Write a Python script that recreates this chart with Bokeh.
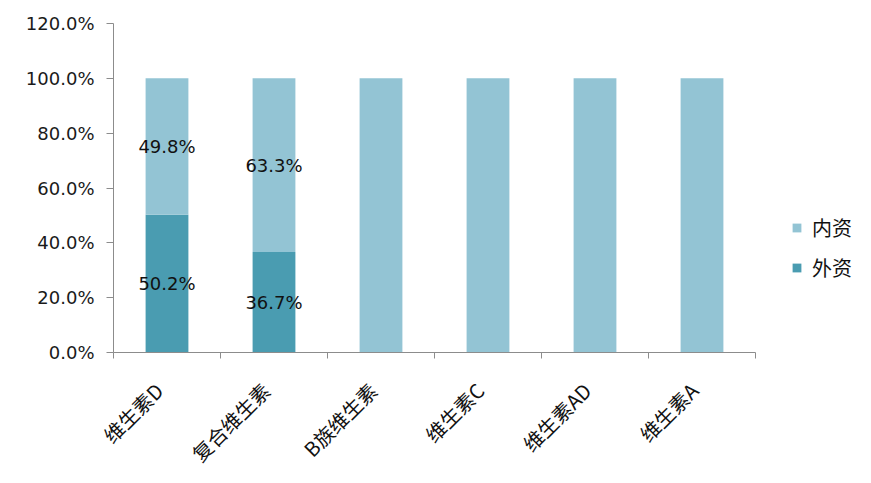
import math
from bokeh.plotting import figure
from bokeh.models import (ColumnDataSource, Range1d, LinearAxis, FixedTicker,
                          NumeralTickFormatter, Legend, LegendItem)
from bokeh.core.properties import value
from bokeh.embed import file_html
from bokeh.resources import INLINE

categories = ["维生素D", "复合维生素", "B族维生素", "维生素C", "维生素AD", "维生素A"]
foreign = [50.2, 36.7, 0.0, 0.0, 0.0, 0.0]      # 外资
domestic = [49.8, 63.3, 100.0, 100.0, 100.0, 100.0]  # 内资
y_ticks = [0, 20, 40, 60, 80, 100, 120]

C_DOM = "#93C4D4"
C_FOR = "#4A9CB1"
AXIS_C = "#8C8C8C"
FONT = "DejaVu Sans"
CJK = "Noto Sans CJK SC"

W, H = 871, 483
LEFT, TOP, BOTTOM = 113, 23, 131
AXIS_PX = 642            # pixel length of the category axis
n = len(categories)
x_max = n * (W - LEFT) / AXIS_PX

xs = [i + 0.5 for i in range(n)]
src = ColumnDataSource(dict(
    x=xs,
    f0=[0.0] * n,
    f1=[v / 100 for v in foreign],
    d1=[(a + b) / 100 for a, b in zip(foreign, domestic)],
))

p = figure(width=W, height=H, output_backend="svg", toolbar_location=None,
           x_range=Range1d(0, x_max), y_range=Range1d(0, 1.2),
           x_axis_type=None, y_axis_type=None)
p.min_border_left = LEFT
p.min_border_right = 0
p.min_border_top = TOP
p.min_border_bottom = BOTTOM
p.outline_line_color = None
p.xgrid.visible = False
p.ygrid.visible = False
p.background_fill_color = "white"
p.border_fill_color = "white"

r_for = p.vbar(x="x", bottom="f0", top="f1", width=0.4, source=src,
               fill_color=C_FOR, line_color=None)
r_dom = p.vbar(x="x", bottom="f1", top="d1", width=0.4, source=src,
               fill_color=C_DOM, line_color=None)

# y axis
yax = LinearAxis(ticker=FixedTicker(ticks=[t / 100 for t in y_ticks]),
                 formatter=NumeralTickFormatter(format="0.0%"))
yax.axis_line_color = AXIS_C
yax.major_tick_line_color = AXIS_C
yax.major_tick_out = 7
yax.major_tick_in = 0
yax.minor_tick_line_color = None
yax.major_label_standoff = 12
yax.major_label_text_font = FONT
yax.major_label_text_font_size = "18px"
yax.major_label_text_color = "#1a1a1a"
p.add_layout(yax, "left")

# x axis: boundary ticks
xax1 = LinearAxis(ticker=FixedTicker(ticks=list(range(n + 1))), bounds=(0, n))
xax1.axis_line_color = AXIS_C
xax1.major_tick_line_color = AXIS_C
xax1.major_tick_out = 6
xax1.major_tick_in = 0
xax1.minor_tick_line_color = None
xax1.major_label_text_font_size = "0px"
xax1.major_label_standoff = 0
xax1.major_label_overrides = {i: "" for i in range(n + 1)}
p.add_layout(xax1, "below")

# x axis: category labels (anchor nudged left so rotated text ends at the bar)
label_ticks = [x - 0.075 for x in xs]
xax2 = LinearAxis(ticker=FixedTicker(ticks=label_ticks))
xax2.major_label_overrides = {t: c for t, c in zip(label_ticks, categories)}
xax2.axis_line_color = None
xax2.major_tick_line_color = None
xax2.minor_tick_line_color = None
xax2.major_label_orientation = math.pi / 4
xax2.major_label_standoff = 22
xax2.major_label_text_font = CJK
xax2.major_label_text_font_size = "20px"
xax2.major_label_text_color = "#111111"
p.add_layout(xax2, "below")

# data labels
lx, ly, lt = [], [], []
for x, f, d in zip(xs, foreign, domestic):
    if f > 0 and d > 0:
        lx += [x, x]
        ly += [f / 200, (f + d / 2) / 100]
        lt += [f"{f:.1f}%", f"{d:.1f}%"]
p.text(x=lx, y=ly, text=lt, text_font=value(FONT), text_font_size="18px",
       text_align="center", text_baseline="middle", text_color="#111111")

legend = Legend(items=[LegendItem(label="内资", renderers=[r_dom]),
                       LegendItem(label="外资", renderers=[r_for])],
                location=(678, 70), orientation="vertical")
legend.border_line_color = None
legend.background_fill_alpha = 0
legend.padding = 0
legend.margin = 0
legend.glyph_width = 11
legend.glyph_height = 11
legend.label_standoff = 10
legend.spacing = 11
legend.label_height = 21
legend.label_text_font = CJK
legend.label_text_font_size = "20px"
legend.label_text_color = "#111111"
p.add_layout(legend, "center")

open("out.html", "w").write(file_html(p, INLINE))
